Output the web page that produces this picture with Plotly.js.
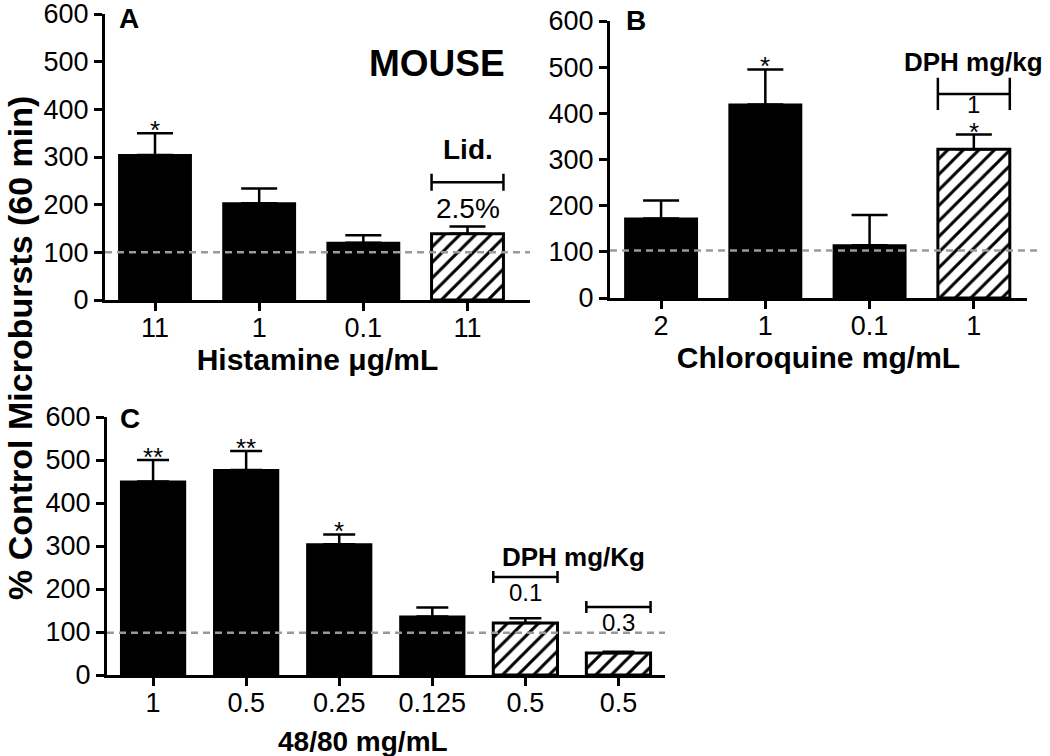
<!DOCTYPE html>
<html><head><meta charset="utf-8">
<script src="https://cdn.plot.ly/plotly-3.0.1.min.js"></script>
<style>html,body{margin:0;padding:0;background:#fff}#chart{width:1050px;height:756px}</style>
</head><body><div id="chart"></div>
<script>
// ---- Panel A: Histamine ----
const labelsA = ['11', '1', '0.1', '11'];
const valuesA = [304, 203, 120, 139];
const semA = [46, 31, 16, 15];
const hatchA = [false, false, false, true];
const sigA = ['*', '', '', ''];
const controlA = 100;

// ---- Panel B: Chloroquine ----
const labelsB = ['2', '1', '0.1', '1'];
const valuesB = [172, 419, 114, 322];
const semB = [39, 76, 66, 32];
const hatchB = [false, false, false, true];
const sigB = ['', '*', '', '*'];
const controlB = 103;

// ---- Panel C: 48/80 ----
const labelsC = ['1', '0.5', '0.25', '0.125', '0.5', '0.5'];
const valuesC = [450, 477, 304, 136, 121, 51];
const semC = [50, 44, 23, 21, 11, 3];
const hatchC = [false, false, false, false, true, true];
const sigC = ['**', '**', '*', '', '', ''];
const controlC = 98;

const FONT = 'Liberation Sans, Arial, Helvetica, sans-serif';
const BW = 0.69;

function barTraces(vals, sem, hatch, xa, ya, capw) {
  const pick = (want) => {
    const idx = vals.map((_, i) => i).filter(i => hatch[i] === want);
    return {
      type: 'bar', x: idx, y: idx.map(i => vals[i]), xaxis: xa, yaxis: ya, width: BW,
      marker: want
        ? { color: '#ffffff', line: { color: '#000', width: 3 },
            pattern: { shape: '/', fgcolor: '#000000', bgcolor: '#ffffff', size: 11, solidity: 0.27, fillmode: 'replace' } }
        : { color: '#000000', line: { color: '#000', width: 2 } },
      error_y: { type: 'data', symmetric: false, array: idx.map(i => sem[i]), arrayminus: idx.map(() => 0),
        color: '#000', thickness: 2.5, width: capw },
      showlegend: false, hoverinfo: 'skip'
    };
  };
  return [pick(false), pick(true)];
}

const data = [].concat(
  barTraces(valuesA, semA, hatchA, 'x', 'y', 18),
  barTraces(valuesB, semB, hatchB, 'x2', 'y2', 18),
  barTraces(valuesC, semC, hatchC, 'x3', 'y3', 16)
);

const axBase = {
  showgrid: false, zeroline: false, showline: true, linecolor: '#000', linewidth: 3,
  ticks: 'outside', ticklen: 8, tickwidth: 3, tickcolor: '#000', ticklabeloverflow: 'allow',
  tickfont: { family: FONT, size: 27, color: '#000' }, fixedrange: true
};
const xBase = Object.assign({}, axBase, { ticklabelstandoff: -6 });
const yBase = Object.assign({}, axBase, { range: [0, 600], tick0: 0, dtick: 100 });
const titleFont = { family: FONT, size: 30, color: '#000', weight: 700 };

function sigAnn(vals, sem, sig, xa, ya) {
  return sig.map((s, i) => s ? {
    xref: xa, yref: ya, x: i, y: vals[i] + sem[i], text: s, showarrow: false,
    xanchor: 'center', yanchor: 'bottom', yshift: -14, font: { family: FONT, size: 26, color: '#000' }
  } : null).filter(Boolean);
}

function bracket(idx, y, h, xa, ya) {
  const x0 = idx - BW / 2, x1 = idx + BW / 2;
  return {
    type: 'path', xref: xa, yref: ya,
    path: `M${x0},${y - h} L${x0},${y + h} M${x0},${y} L${x1},${y} M${x1},${y - h} L${x1},${y + h}`,
    line: { color: '#000', width: 2.5 }
  };
}

function ctrlLine(v, xa, ya, x1) {
  return { type: 'line', xref: xa + ' domain', yref: ya, x0: 0, x1: x1, y0: v, y1: v,
    line: { color: '#9a9a9a', width: 2.5, dash: '7px,5px' }, layer: 'above' };
}

const boldTxt = (size) => ({ family: FONT, size: size, color: '#000', weight: 700 });
const regTxt = (size) => ({ family: FONT, size: size, color: '#000' });
const txt = (xref, yref, x, y, text, font, extra) => Object.assign(
  { xref, yref, x, y, text, font, showarrow: false, xanchor: 'center', yanchor: 'middle' }, extra || {});

const annotations = [].concat(
  sigAnn(valuesA, semA, sigA, 'x', 'y'),
  sigAnn(valuesB, semB, sigB, 'x2', 'y2'),
  sigAnn(valuesC, semC, sigC, 'x3', 'y3'),
  [
    txt('paper', 'paper', 129 / 1050, 1 - 19 / 756, 'A', boldTxt(28)),
    txt('paper', 'paper', 636 / 1050, 1 - 20 / 756, 'B', boldTxt(28)),
    txt('paper', 'paper', 130 / 1050, 1 - 418 / 756, 'C', boldTxt(28)),
    txt('x', 'y', 2.71, 497, 'MOUSE', boldTxt(37)),
    txt('x', 'y', 3, 315, 'Lid.', boldTxt(28)),
    txt('x', 'y', 3, 191, '2.5%', regTxt(28)),
    txt('x2', 'y2', 3, 511, 'DPH mg/kg', boldTxt(26)),
    txt('x2', 'y2', 3, 420, '1', regTxt(24)),
    txt('x3', 'y3', 4.52, 274, 'DPH mg/Kg', boldTxt(26)),
    txt('x3', 'y3', 4, 193, '0.1', regTxt(24)),
    txt('x3', 'y3', 5, 121, '0.3', regTxt(24)),
    txt('paper', 'paper', 363 / 1050, 1 - 741 / 756, '48/80 mg/mL', boldTxt(28)),
    txt('paper', 'paper', 20 / 1050, 1 - 348 / 756, '% Control Microbursts (60 min)', boldTxt(34), { textangle: -90 })
  ]
);

const layout = {
  width: 1050, height: 756, autosize: false,
  margin: { l: 0, r: 0, t: 0, b: 0 },
  paper_bgcolor: '#fff', plot_bgcolor: 'rgba(0,0,0,0)',
  font: { family: FONT, color: '#000' },
  barmode: 'overlay', bargap: 0,
  xaxis: Object.assign({}, xBase, { domain: [105 / 1050, 530 / 1050], range: [-0.48, 3.6], anchor: 'y',
    tickvals: labelsA.map((_, i) => i), ticktext: labelsA,
    title: { text: 'Histamine μg/mL', font: titleFont, standoff: 0 } }),
  yaxis: Object.assign({}, yBase, { domain: [1 - 300 / 756, 1 - 14 / 756], anchor: 'x' }),
  xaxis2: Object.assign({}, xBase, { domain: [610 / 1050, 1027 / 1050], range: [-0.49, 3.51], anchor: 'y2',
    tickvals: labelsB.map((_, i) => i), ticktext: labelsB,
    title: { text: 'Chloroquine mg/mL', font: titleFont, standoff: 0 } }),
  yaxis2: Object.assign({}, yBase, { domain: [1 - 298 / 756, 1 - 21 / 756], anchor: 'x2' }),
  xaxis3: Object.assign({}, xBase, { domain: [107 / 1050, 665 / 1050], range: [-0.495, 5.5], anchor: 'y3',
    tickvals: labelsC.map((_, i) => i), ticktext: labelsC }),
  yaxis3: Object.assign({}, yBase, { domain: [1 - 675 / 756, 1 - 417 / 756], anchor: 'x3' }),
  shapes: [
    ctrlLine(controlA, 'x', 'y', 1),
    ctrlLine(controlB, 'x2', 'y2', 1.03),
    ctrlLine(controlC, 'x3', 'y3', 1),
    bracket(3, 247, 18, 'x', 'y'),
    bracket(3, 442, 35, 'x2', 'y2'),
    bracket(4, 228, 14, 'x3', 'y3'),
    bracket(5, 158, 14, 'x3', 'y3')
  ],
  annotations: annotations
};

Plotly.newPlot('chart', data, layout, { displayModeBar: false, staticPlot: true });
</script>
</body></html>
